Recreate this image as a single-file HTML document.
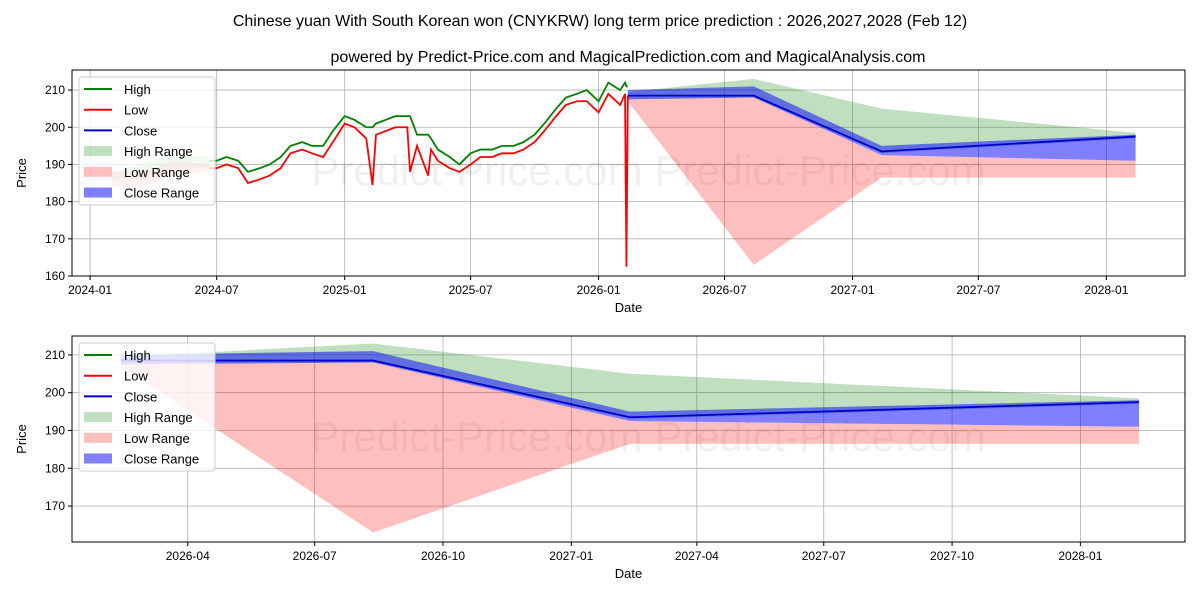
<!DOCTYPE html>
<html><head><meta charset="utf-8"><style>
body{margin:0;background:#fff;}
svg text{font-family:"Liberation Sans","DejaVu Sans",sans-serif;}
</style></head><body>
<svg id="c" width="1200" height="600" xmlns="http://www.w3.org/2000/svg">
<rect width="1200" height="600" fill="#fff"/>
<text x="600" y="26" font-size="16" text-anchor="middle">Chinese yuan With South Korean won (CNYKRW) long term price prediction : 2026,2027,2028 (Feb 12)</text>
<text x="628" y="62" font-size="16" text-anchor="middle">powered by Predict-Price.com and MagicalPrediction.com and MagicalAnalysis.com</text>
</svg>
<script>
// historical data
const histDates=["2024-06-20","2024-07-01","2024-07-15","2024-08-01","2024-08-15","2024-09-01","2024-09-15","2024-10-01","2024-10-15","2024-11-01","2024-11-15","2024-12-01","2024-12-15","2025-01-01","2025-01-15","2025-02-01","2025-02-10","2025-02-15","2025-03-01","2025-03-15","2025-04-01","2025-04-05","2025-04-15","2025-05-01","2025-05-05","2025-05-15","2025-06-01","2025-06-15","2025-07-01","2025-07-15","2025-08-01","2025-08-15","2025-09-01","2025-09-15","2025-10-01","2025-10-15","2025-11-01","2025-11-15","2025-12-01","2025-12-15","2026-01-01","2026-01-15","2026-02-01","2026-02-08","2026-02-10","2026-02-12"];
const histHigh=[191,191,192,191,188,189,190,192,195,196,195,195,199,203,202,200,200,201,202,203,203,203,198,198,197,194,192,190,193,194,194,195,195,196,198,201,205,208,209,210,207,212,210,212,211,211];
const histLow=[189,189,190,189,185,186,187,189,193,194,193,192,196,201,200,197,184.5,198,199,200,200,188,195,187,194,191,189,188,190,192,192,193,193,194,196,199,203,206,207,207,204,209,206,209,162.5,208.5];
// prediction data
const predDates=["2026-02-12","2026-08-12","2027-02-12","2028-02-12"];
const highUp=[209.5,213,205,198.5];
const highLo=[207.5,208,193,197];
const lowUp=[207.5,208,192.5,191];
const lowLo=[207,163,186.5,186.5];
const closeUp=[210,211,195,198];
const closeLo=[207.5,208,192.5,191];
const closeVal=[208.5,208.5,193.5,197.5];
const earlyDates=["2024-02-01","2024-03-15","2024-05-01","2024-06-20"];
const earlyHighUp=[188,190,193,192];
const earlyHighLo=[186,186,189,189];
const earlyLowUp=[188,188,191,190];
const earlyLowLo=[184,184,187,188];
const yTicksTop=[160,170,180,190,200,210];
const xTicksTop=["2024-01","2024-07","2025-01","2025-07","2026-01","2026-07","2027-01","2027-07","2028-01"];
const yTicksBot=[170,180,190,200,210];
const xTicksBot=["2026-04","2026-07","2026-10","2027-01","2027-04","2027-07","2027-10","2028-01"];

const NS="http://www.w3.org/2000/svg";
const svg=document.getElementById('c');
const D=s=>new Date(s.length===7?s+"-01":s).getTime();
function mk(tag,attrs,parent){const e=document.createElementNS(NS,tag);for(const k in attrs)e.setAttribute(k,attrs[k]);(parent||svg).appendChild(e);return e;}

function panel(P){
  const g=mk('g',{});
  
  
  const x=d=>P.x0+(D(d)-D(P.d0))/(D(P.d1)-D(P.d0))*(P.x1-P.x0);
  const y=v=>P.y1-(v-P.v0)/(P.v1-P.v0)*(P.y1-P.y0);
  const clipId='clip'+P.name;
  const cp=mk('clipPath',{id:clipId},g);mk('rect',{x:P.x0,y:P.y0,width:P.x1-P.x0,height:P.y1-P.y0},cp);
  P.xt.forEach(t=>{const l=mk('line',{x1:x(t),x2:x(t),y1:P.y0,y2:P.y1,stroke:'#b0b0b0','stroke-width':0.8},g);
    });
  P.yt.forEach(t=>{const l=mk('line',{x1:P.x0,x2:P.x1,y1:y(t),y2:y(t),stroke:'#b0b0b0','stroke-width':0.8},g);
    });
  const wm=mk('text',{x:(P.x0+P.x1)/2+20,y:(P.y0+P.y1)/2+12,'font-size':42,fill:'#000','fill-opacity':0.06,'text-anchor':'middle'},g);
  wm.textContent='Predict-Price.com      Predict-Price.com';
  
  const pg=mk('g',{'clip-path':'url(#'+clipId+')'},g);
  const band=(ds,up,lo,col,op,name)=>{let pts=ds.map((d,i)=>x(d)+','+y(up[i]));
    for(let i=ds.length-1;i>=0;i--)pts.push(x(ds[i])+','+y(lo[i]));
    const p=mk('polygon',{points:pts.join(' '),fill:col,'fill-opacity':op},pg);
    };
  if(P.hist){
    band(earlyDates,earlyHighUp,earlyHighLo,'green',0.25,'early-high-range');
    band(earlyDates,earlyLowUp,earlyLowLo,'red',0.25,'early-low-range');
  }
  band(predDates,highUp,highLo,'green',0.25,'high-range');
  band(predDates,lowUp,lowLo,'red',0.25,'low-range');
  band(predDates,closeUp,closeLo,'blue',0.5,'close-range');
  const line=(ds,vs,col,name)=>{const p=mk('polyline',{points:ds.map((d,i)=>x(d)+','+y(vs[i])).join(' '),fill:'none',stroke:col,'stroke-width':1.8},pg);
    };
  if(P.hist){
    line(histDates,histHigh,'green','high-line');
    line(histDates,histLow,'red','low-line');
  }
  line(predDates,closeVal,'#0000cc','close-line');
  const fr=mk('rect',{x:P.x0,y:P.y0,width:P.x1-P.x0,height:P.y1-P.y0,fill:'none',stroke:'#000','stroke-width':1},g);
  
  P.xt.forEach(t=>{mk('line',{x1:x(t),x2:x(t),y1:P.y1,y2:P.y1+4,stroke:'#000'},g);
    const tx=mk('text',{x:x(t),y:P.y1+18,'font-size':12,'text-anchor':'middle'},g);tx.textContent=t;
    });
  P.yt.forEach(t=>{mk('line',{x1:P.x0-4,x2:P.x0,y1:y(t),y2:y(t),stroke:'#000'},g);
    const tx=mk('text',{x:P.x0-7,y:y(t)+4,'font-size':12,'text-anchor':'end'},g);tx.textContent=t;
    });
  const xl=mk('text',{x:(P.x0+P.x1)/2,y:P.y1+36,'font-size':13,'text-anchor':'middle'},g);xl.textContent='Date';
  
  const yl=mk('text',{x:26,y:(P.y0+P.y1)/2,'font-size':13,'text-anchor':'middle',transform:'rotate(-90 26 '+(P.y0+P.y1)/2+')'},g);yl.textContent='Price';
  
  const lg=mk('g',{},g);
  const lx=P.x0+7,ly=P.y0+7;
  mk('rect',{x:lx,y:ly,width:136,height:128,rx:3,fill:'#fff','fill-opacity':0.8,stroke:'#ccc'},lg);
  const items=[['High','line','green'],['Low','line','red'],['Close','line','#0000cc'],['High Range','box','rgba(0,128,0,0.25)'],['Low Range','box','rgba(255,0,0,0.25)'],['Close Range','box','rgba(0,0,255,0.5)']];
  items.forEach((it,i)=>{const cy=ly+12+i*20.7;
    const e=mk('g',{},lg);
    if(it[1]==='line')mk('line',{x1:lx+5,x2:lx+33,y1:cy,y2:cy,stroke:it[2],'stroke-width':2},e);
    else mk('rect',{x:lx+5,y:cy-5,width:28,height:10,fill:it[2]},e);
    const t=mk('text',{x:lx+45,y:cy+5,'font-size':13},e);t.textContent=it[0];});
}
panel({name:'top-panel',hist:true,x0:72,x1:1185,y0:70,y1:276,d0:"2023-12-06",d1:"2028-04-23",v0:160,v1:215.4,xt:xTicksTop,yt:yTicksTop});
panel({name:'bottom-panel',hist:false,x0:72,x1:1185,y0:336,y1:542,d0:"2026-01-08",d1:"2028-03-16",v0:160.5,v1:215,xt:xTicksBot,yt:yTicksBot});
</script>
</body></html>
